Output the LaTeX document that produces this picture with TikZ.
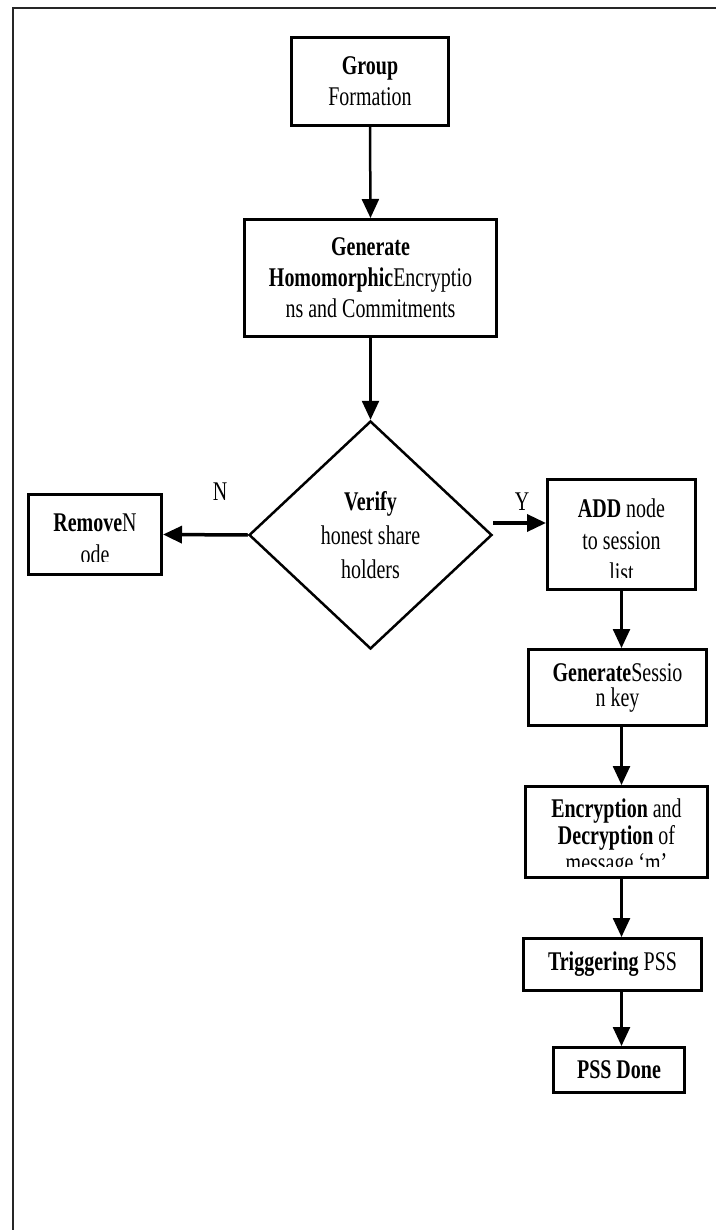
\documentclass[tikz,border=0pt]{standalone}
\usepackage{fontspec}
\setmainfont{Liberation Serif}[FakeStretch=0.74]
\usetikzlibrary{arrows.meta,shapes.geometric,calc}
\begin{document}
\begin{tikzpicture}[x=1pt,y=-1pt,
  box/.style={draw, line width=3pt, inner sep=0pt, align=center, font=\fontsize{27}{31}\selectfont},
  txt/.style={inner sep=0pt, align=center, font=\fontsize{27}{32}\selectfont},
  dec/.style={draw, diamond, line width=2.5pt, inner sep=0pt, align=center,
    minimum width=243pt, minimum height=228pt, font=\fontsize{27}{34}\selectfont},
  arr/.style={line width=2.5pt, -{Triangle[width=17pt,length=19pt]}},
  harr/.style={arr, line width=3.5pt},
  lbl/.style={inner sep=0pt, font=\fontsize{27}{30}\selectfont},
  frame/.style={line width=2.8pt, draw=black!85}
]
\useasboundingbox (0,0) rectangle (715,1230);
\draw[frame] (13,1235) -- (13,8) -- (720,8);

\node[box, minimum width=157pt, minimum height=88pt] (grp) at (370,81.5) {\textbf{Group}\\Formation};
\node[box, minimum width=252pt, minimum height=117pt] (gen) at (370.5,278) {\textbf{Generate}\\\textbf{Homomorphic}Encryptio\\ns and Commitments};
\node[dec] (dia) at (370.5,535) {\textbf{Verify}\\honest share\\holders};

\node[box, minimum width=133pt, minimum height=80pt] (rem) at (95,534.5) {};
\begin{scope}
  \clip (27,493) rectangle (163,561);
  \node[txt] (remt) at (95,539) {\textbf{Remove}N\\ode};
\end{scope}

\node[box, minimum width=148pt, minimum height=110pt] (add) at (621.5,534.5) {};
\begin{scope}
  \clip (546,478) rectangle (697,577);
  \node[txt] (addt) at (621.5,540) {\textbf{ADD} node\\to session\\list};
\end{scope}

\node[box, minimum width=178pt, minimum height=76pt, font=\fontsize{27}{25}\selectfont] (gsk) at (617.5,687.5) {\textbf{Generate}Sessio\\n key};

\node[box, minimum width=182pt, minimum height=91pt] (enc) at (616.5,832) {};
\begin{scope}
  \clip (524,785) rectangle (709,866);
  \node[txt, font=\fontsize{27}{27}\selectfont] (enct) at (616.5,838.5) {\textbf{Encryption} and\\\textbf{Decryption} of\\message `m'};
\end{scope}

\node[box, minimum width=178pt, minimum height=52pt] (trg) at (612.5,964.5) {\textbf{Triggering} PSS};
\node[box, minimum width=131pt, minimum height=45pt] (done) at (619,1070) {\textbf{PSS Done}};

\node[lbl] (nl) at (220,492) {N};
\node[lbl] (yl) at (522,502) {Y};

\draw[arr] (grp.south) -- (gen.north);
\draw[arr] (gen.south) -- (dia.north);
\draw[harr] (dia.west) -- (rem.east);
\coordinate (ys) at ($(dia.east)+(0,-12)$);
\draw[harr] (ys) -- (ys -| add.west);
\draw[arr] (add.south) -- (add.south |- gsk.north);
\draw[arr] (gsk.south -| add.south) -- (enc.north -| add.south);
\draw[arr] (enc.south -| add.south) -- (trg.north -| add.south);
\draw[arr] (trg.south -| add.south) -- (done.north -| add.south);
\end{tikzpicture}
\end{document}
